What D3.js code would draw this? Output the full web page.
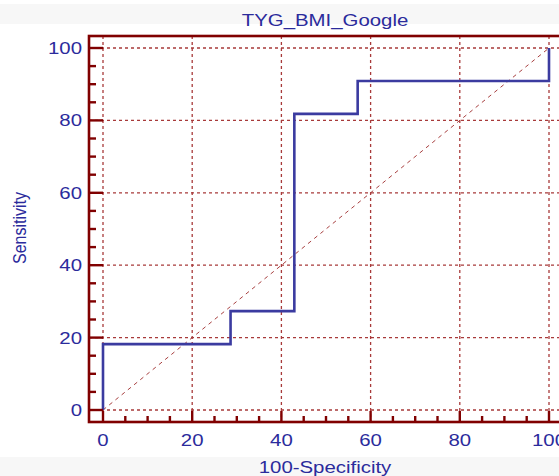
<!doctype html>
<html lang="en">
  <head>
    <meta charset="UTF-8">
    <title>TYG_BMI_Google</title>
    <style>
      body {
        margin: 0;
        background: #fff;
      }
      svg {
        display: block;
      }
      .lbl {
        font-family: Arial, "Liberation Sans", sans-serif;
        fill: #2b2b9c;
      }
    </style>
  </head>
  <body>
    <svg width="559" height="476"></svg>
    <script src="https://d3js.org/d3.v7.min.js"></script>
    <script>

      // ROC points (100-Specificity, Sensitivity)
      var fpr = [0, 0, 28.6, 28.6, 42.9, 42.9, 57.1, 57.1, 100, 100];
      var tpr = [0, 18.2, 18.2, 27.3, 27.3, 81.8, 81.8, 90.9, 90.9, 100];
      var majorTicks = [0, 20, 40, 60, 80, 100];
      var title = "TYG_BMI_Google",
              xTitle = "100-Specificity",
              yTitle = "Sensitivity";

      var svg = d3.select("svg"),
              W = +svg.attr("width"),
              H = +svg.attr("height"),
              frame = {left: 89, top: 36, right: 562, bottom: 422},
              stretch = 1.2;

      var x = d3.scaleLinear().domain([0, 100]).range([103, 549]);
      var y = d3.scaleLinear().domain([0, 100]).range([410, 48]);
      var darkRed = "#800000";

      // faint grey bands top and bottom
      svg.append("rect").attr("x", 0).attr("y", 4).attr("width", W).attr("height", 20).attr("fill", "#f7f7f7");
      svg.append("rect").attr("x", 0).attr("y", 457).attr("width", W).attr("height", H - 457).attr("fill", "#f7f7f7");

      // grid
      var grid = svg.append("g")
              .attr("stroke", "#a83a3a")
              .attr("stroke-width", 1.3)
              .attr("stroke-dasharray", "3,3");
      grid.selectAll(".gx").data(majorTicks).enter().append("line")
              .attr("x1", function (d) { return x(d); })
              .attr("x2", function (d) { return x(d); })
              .attr("y1", frame.top)
              .attr("y2", frame.bottom);
      grid.selectAll(".gy").data(majorTicks).enter().append("line")
              .attr("x1", frame.left)
              .attr("x2", frame.right)
              .attr("y1", function (d) { return y(d); })
              .attr("y2", function (d) { return y(d); });

      // diagonal reference line
      svg.append("line")
              .attr("x1", x(0)).attr("y1", y(0))
              .attr("x2", x(100)).attr("y2", y(100))
              .attr("stroke", "#a84040")
              .attr("stroke-width", 1)
              .attr("stroke-dasharray", "4,4");

      // ROC step curve
      var line = d3.line()
              .x(function (d, i) { return x(fpr[i]); })
              .y(function (d, i) { return y(tpr[i]); });
      svg.append("path")
              .datum(fpr)
              .attr("d", line)
              .attr("fill", "none")
              .attr("stroke", "#3b3ba0")
              .attr("stroke-width", 2.6);

      // frame
      svg.append("rect")
              .attr("x", frame.left)
              .attr("y", frame.top)
              .attr("width", frame.right - frame.left)
              .attr("height", frame.bottom - frame.top)
              .attr("fill", "none")
              .attr("stroke", darkRed)
              .attr("stroke-width", 2.6);

      // ticks, pointing inwards
      var minor = x.ticks(20).filter(function (d) { return majorTicks.indexOf(d) < 0; });
      var ticks = svg.append("g").attr("stroke", darkRed).attr("stroke-width", 2.4);
      ticks.selectAll(".ty").data(y.ticks(20)).enter().append("line")
              .attr("x1", frame.left)
              .attr("x2", function (d) { return frame.left + (majorTicks.indexOf(d) >= 0 ? 14 : 7); })
              .attr("y1", function (d) { return y(d); })
              .attr("y2", function (d) { return y(d); });
      ticks.selectAll(".tx").data(x.ticks(20)).enter().append("line")
              .attr("y1", frame.bottom)
              .attr("y2", function (d) { return frame.bottom - (majorTicks.indexOf(d) >= 0 ? 11 : 6); })
              .attr("x1", function (d) { return x(d); })
              .attr("x2", function (d) { return x(d); });

      function stretched(sel, px, py) {
        return sel.append("text")
                .attr("class", "lbl")
                .attr("transform", "translate(" + px + "," + py + ") scale(" + stretch + ",1)");
      }

      // tick labels
      majorTicks.forEach(function (d) {
        stretched(svg, 82, y(d) + 6)
                .attr("text-anchor", "end")
                .attr("font-size", 17)
                .text(d);
        stretched(svg, x(d), 446)
                .attr("text-anchor", "middle")
                .attr("font-size", 17)
                .text(d);
      });

      // titles
      stretched(svg, 325, 26)
              .attr("text-anchor", "middle")
              .attr("font-size", 17)
              .attr("fill", "#23238f")
              .text(title);
      stretched(svg, 325, 473)
              .attr("text-anchor", "middle")
              .attr("font-size", 17)
              .text(xTitle);
      svg.append("text")
              .attr("class", "lbl")
              .attr("transform", "translate(26,228) rotate(-90) scale(1," + stretch + ")")
              .attr("text-anchor", "middle")
              .attr("font-size", 16)
              .text(yTitle);

    </script>
  </body>
</html>
